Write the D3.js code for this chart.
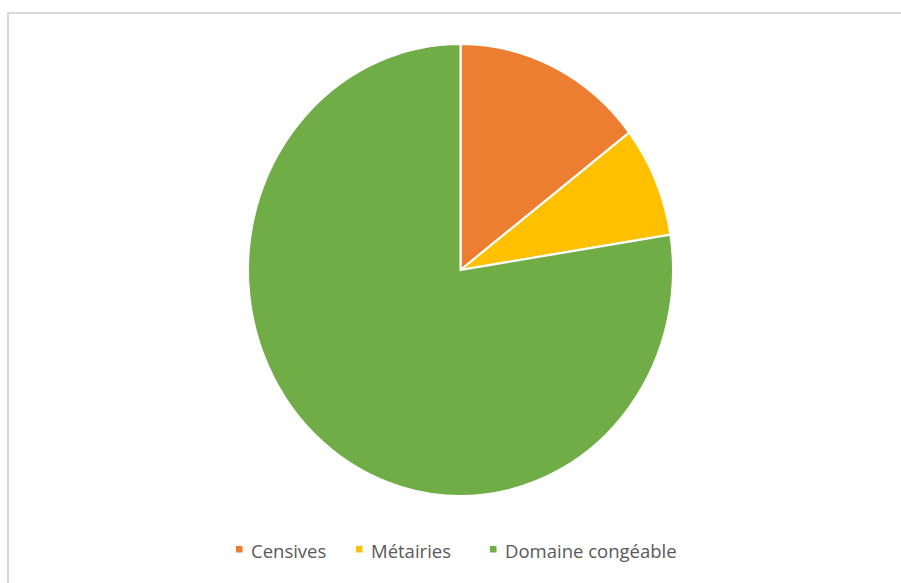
<!DOCTYPE html>
<html>
<head>
<meta charset="utf-8">
<script src="https://cdn.jsdelivr.net/npm/d3@7"></script>
<style>
  body { margin: 0; background: #fff; }
</style>
</head>
<body>
<div class="chart"></div>
<script>
// parts du domaine
var categories = ['Censives', 'Métairies', 'Domaine congéable'];
var values = [14.6, 7.9, 77.5];
var colors = ['#ED7D31', '#FFC000', '#70AD47'];

var svg_width = 901,
    svg_height = 583,
    svg = d3.select('.chart').append('svg').attr('width', svg_width).attr('height', svg_height);

// cadre gris
svg.append('path')
  .attr('d', 'M8,' + svg_height + ' V13 H' + svg_width)
  .attr('fill', 'none')
  .attr('stroke', '#d9d9d9')
  .attr('stroke-width', 2);

var data = categories.map(function(c, i) { return { k: c, v: values[i] }; });

var pie = d3.pie().sort(null).value(function(d) { return d.v; });
var arc = d3.arc().innerRadius(0).outerRadius(226);
var color = d3.scaleOrdinal().domain(categories).range(colors);

// le camembert est un peu ecrase horizontalement dans l'original
var g = svg.append('g').attr('transform', 'translate(460.5,270) scale(0.9403,1)');

g.selectAll('.slice').data(pie(data))
  .enter().append('path')
  .attr('class', 'slice')
  .attr('d', arc)
  .attr('fill', function(d) { return color(d.data.k); })
  .attr('stroke', '#fff')
  .attr('stroke-width', 2.2);

// legende
var legendX = [236, 356, 490];
var leg = svg.selectAll('.legend').data(data)
  .enter().append('g')
  .attr('class', 'legend')
  .attr('transform', function(d, i) { return 'translate(' + legendX[i] + ',546)'; });

leg.append('rect')
  .attr('width', 6.5).attr('height', 6.5)
  .attr('fill', function(d) { return color(d.k); });

leg.append('text')
  .attr('x', 15).attr('y', 11.5)
  .attr('font-family', 'Open Sans, sans-serif')
  .attr('font-size', 18.5)
  .attr('fill', '#595959')
  .text(function(d) { return d.k; });
</script>
</body>
</html>
